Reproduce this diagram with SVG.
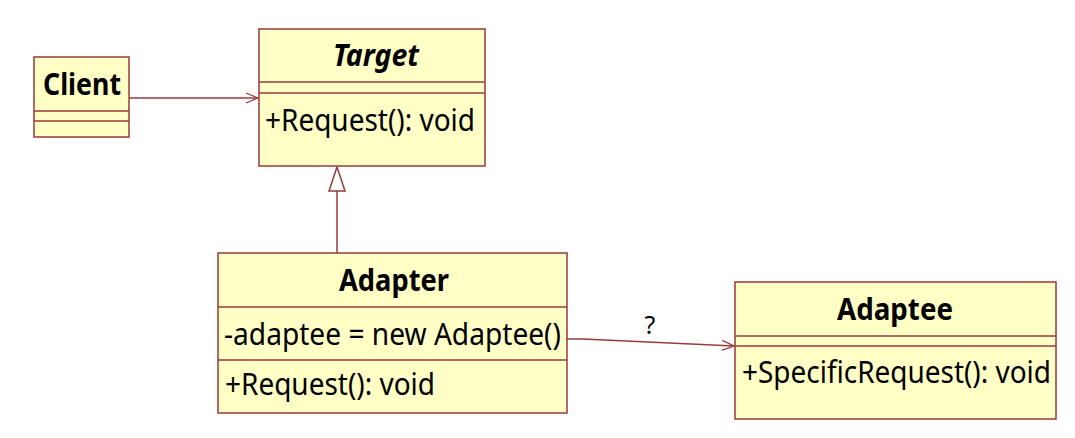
<svg xmlns="http://www.w3.org/2000/svg" width="1075" height="438" viewBox="0 0 1075 438">
<style>
.box{fill:#FFFFC6;stroke:#9A3A3A;stroke-width:1.5}
.div{stroke:#9A3A3A;stroke-width:1.5}
.t{font-family:"Noto Sans","DejaVu Sans",sans-serif;fill:#000}
.name{font-weight:bold;font-size:30px}
.m{font-size:30px}
.conn{fill:none;stroke:#9A3A3A;stroke-width:1.5}
</style>
<defs>
<marker id="open" markerWidth="14" markerHeight="12" refX="13" refY="6" orient="auto" markerUnits="userSpaceOnUse">
<path d="M1,1 L13,6 L1,11" fill="none" stroke="#9A3A3A" stroke-width="1.3"/>
</marker>
</defs>
<g id="connectors">
<line class="conn" x1="129" y1="98" x2="258" y2="98" marker-end="url(#open)"/>
<line class="conn" x1="337" y1="253" x2="337" y2="191"/>
<polygon points="337,167 329,191 345,191" fill="#fff" stroke="#9A3A3A" stroke-width="1.5"/>
<polyline class="conn" points="567,339 583,339 734,346" marker-end="url(#open)"/>
<text class="t" x="650" y="334" font-size="25" text-anchor="middle">?</text>
</g>
<g id="client">
<rect class="box" x="34" y="57" width="95" height="80"/>
<line class="div" x1="34" y1="111" x2="129" y2="111"/>
<line class="div" x1="34" y1="121" x2="129" y2="121"/>
<text class="t name" x="43" y="95" textLength="78" lengthAdjust="spacingAndGlyphs">Client</text>
</g>
<g id="target">
<rect class="box" x="259" y="29" width="226" height="137"/>
<line class="div" x1="259" y1="82" x2="485" y2="82"/>
<line class="div" x1="259" y1="93" x2="485" y2="93"/>
<text class="t name" x="333" y="66" font-style="italic" textLength="86" lengthAdjust="spacingAndGlyphs">Target</text>
<text class="t m" x="265" y="131" textLength="210" lengthAdjust="spacingAndGlyphs">+Request(): void</text>
</g>
<g id="adapter">
<rect class="box" x="218" y="253" width="349" height="160"/>
<line class="div" x1="218" y1="307" x2="567" y2="307"/>
<line class="div" x1="218" y1="360" x2="567" y2="360"/>
<text class="t name" x="339" y="291" textLength="110" lengthAdjust="spacingAndGlyphs">Adapter</text>
<text class="t m" x="224" y="345" textLength="337" lengthAdjust="spacingAndGlyphs">-adaptee = new Adaptee()</text>
<text class="t m" x="225" y="395" textLength="210" lengthAdjust="spacingAndGlyphs">+Request(): void</text>
</g>
<g id="adaptee">
<rect class="box" x="735" y="282" width="321" height="137"/>
<line class="div" x1="735" y1="336" x2="1056" y2="336"/>
<line class="div" x1="735" y1="346" x2="1056" y2="346"/>
<text class="t name" x="837" y="320" textLength="116" lengthAdjust="spacingAndGlyphs">Adaptee</text>
<text class="t m" x="742" y="383" textLength="309" lengthAdjust="spacingAndGlyphs">+SpecificRequest(): void</text>
</g>
</svg>
